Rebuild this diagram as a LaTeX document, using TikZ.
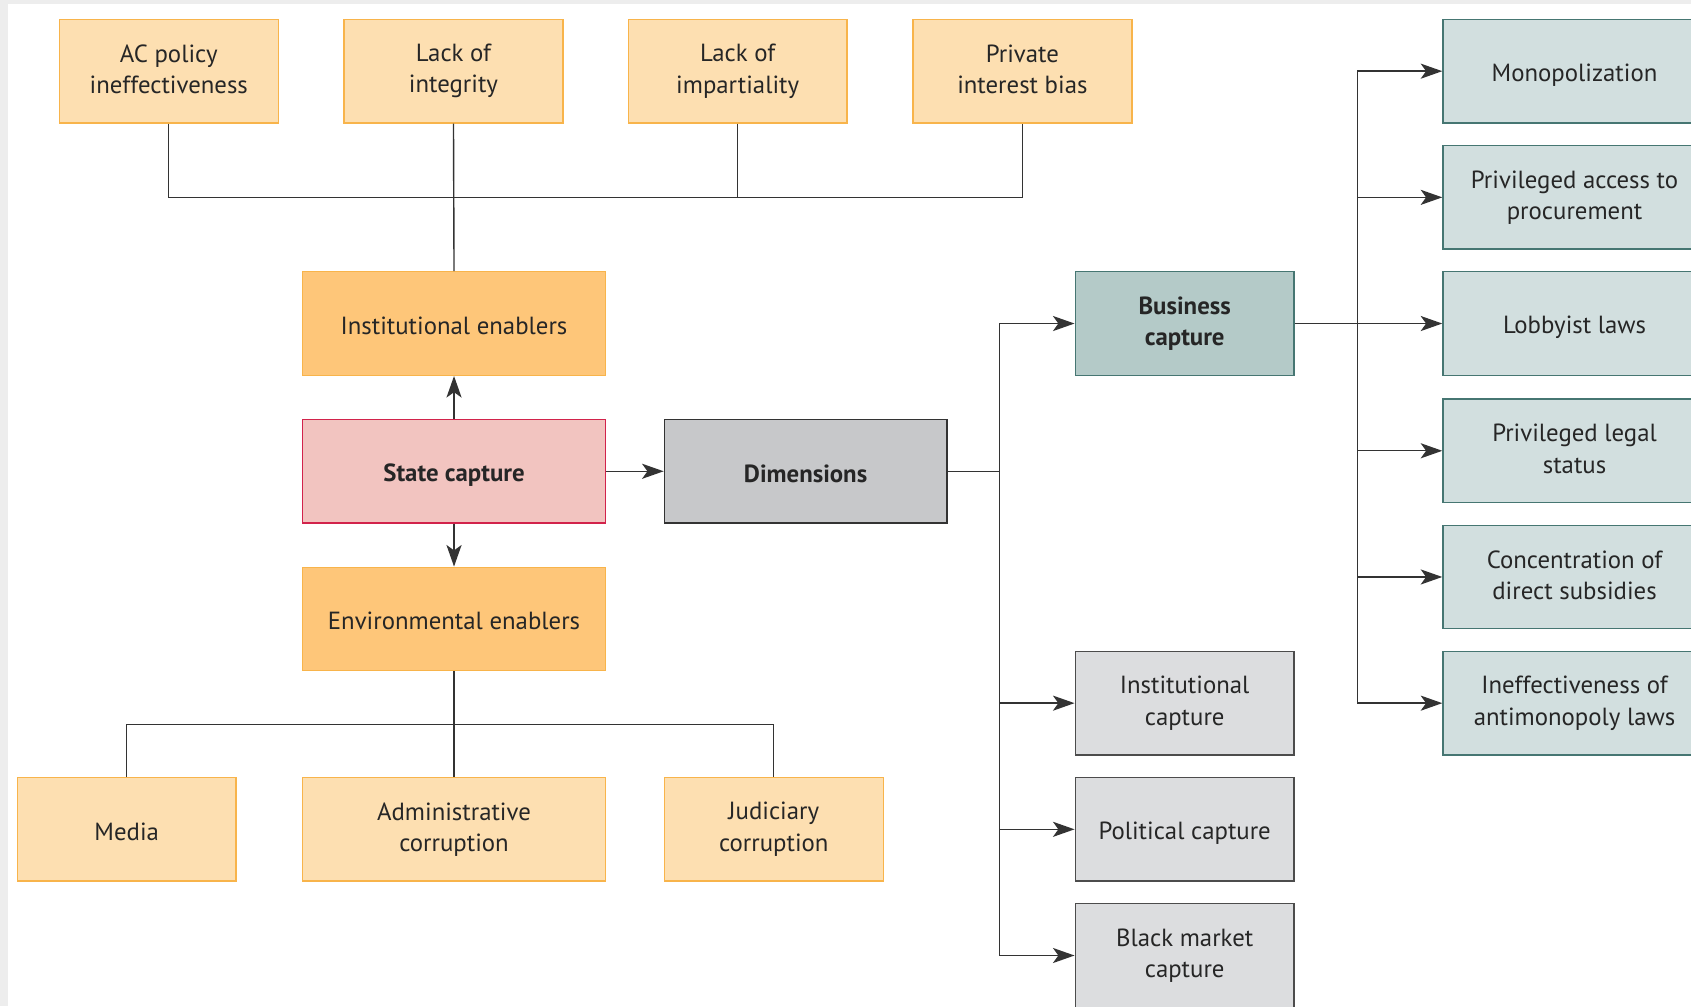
\documentclass[tikz,border=0pt]{standalone}
\usepackage{fontspec}
\setmainfont{PT Sans}
\usetikzlibrary{positioning,arrows.meta}
\definecolor{paleorange}{HTML}{FDDFB1}
\definecolor{deeporange}{HTML}{FEC679}
\definecolor{orangeline}{HTML}{F8B44B}
\definecolor{pinkfill}{HTML}{F2C4C0}
\definecolor{crimson}{HTML}{D2234B}
\definecolor{midgrey}{HTML}{C7C8CA}
\definecolor{lightgrey}{HTML}{DCDDDF}
\definecolor{tealfill}{HTML}{B4CAC8}
\definecolor{palemint}{HTML}{D2DFDF}
\definecolor{tealline}{HTML}{467672}
\tikzset{
    x=1pt,
    y=-1pt,
    box/.style = {
        draw,
        shape=rectangle,
        minimum height=96pt,
        minimum width=203pt,
        inner sep=0pt,
        line width=1.3pt,
        align=center,
        text=black!85,
        font=\fontsize{23}{29}\selectfont,
        execute at begin node={\rule{0pt}{24pt}},
        execute at end node={\rule[-4pt]{0pt}{4pt}}
    },
    factor/.style = {
        box,
        fill=paleorange,
        draw=orangeline
    },
    enabler/.style = {
        box,
        minimum width=281pt,
        fill=deeporange,
        draw=orangeline
    },
    core/.style = {
        box,
        minimum width=281pt,
        fill=pinkfill,
        draw=crimson,
        font=\fontsize{23}{29}\selectfont\bfseries
    },
    dimension/.style = {
        box,
        minimum width=262pt,
        fill=midgrey,
        draw=black!80,
        font=\fontsize{23}{29}\selectfont\bfseries
    },
    capture/.style = {
        box,
        fill=lightgrey,
        draw=black!70
    },
    bizcapture/.style = {
        box,
        fill=tealfill,
        draw=tealline,
        font=\fontsize{23}{29}\selectfont\bfseries
    },
    practice/.style = {
        box,
        minimum width=244pt,
        fill=palemint,
        draw=tealline
    },
    link/.style = {
        draw,
        line width=1.3pt,
        black!80
    },
    >={Stealth[length=20pt,width=14pt,inset=5pt]},
}

\begin{document}
\begin{tikzpicture}
            \useasboundingbox (0,0) rectangle (1568,933);
            \clip (0,0) rectangle (1568,933);
            \fill[black!7] (0,0) rectangle (1568,933);
            \fill[white] (7,4) rectangle (1568,933);

            \node[factor] (acpolicy) at (156.5,66) {AC policy\\ineffectiveness};
            \node[factor] (integrity) at (420.5,66) {Lack of\\integrity};
            \node[factor] (impartiality) at (684,66) {Lack of\\impartiality};
            \node[factor] (privbias) at (948,66) {Private\\interest bias};

            \node[enabler] (instenab) at (421,300) {Institutional enablers};
            \node[core] (statecap) at (421,437) {State capture};
            \node[enabler] (envenab) at (421,574) {Environmental enablers};

            \node[factor] (media) at (117.5,769) {Media};
            \node[factor, minimum width=281pt] (admincorr) at (421,769) {Administrative\\corruption};
            \node[factor] (judiciary) at (717.5,769) {Judiciary\\corruption};

            \node[dimension] (dims) at (747,437) {Dimensions};

            \node[bizcapture] (business) at (1098.5,300) {Business\\capture};
            \node[capture] (instcap) at (1098.5,652) {Institutional\\capture};
            \node[capture] (polcap) at (1098.5,769) {Political capture};
            \node[capture] (blackmkt) at (1098.5,886) {Black market\\capture};

            \node[practice] (mono) at (1460,66) {Monopolization};
            \node[practice] (procure) at (1460,183) {Privileged access to\\procurement};
            \node[practice] (lobby) at (1460,300) {Lobbyist laws};
            \node[practice] (legal) at (1460,418) {Privileged legal\\status};
            \node[practice] (subsidies) at (1460,535) {Concentration of\\direct subsidies};
            \node[practice] (antimono) at (1460,652) {Ineffectiveness of\\antimonopoly laws};

            \coordinate (topbus) at (420.5,183);
            \coordinate (lowbus) at (421,672);
            \coordinate (dimbus) at (927,437);
            \coordinate (bizbus) at (1259,300);

            % institutional side
            \path[link] (acpolicy.south) |- (topbus) -| (privbias.south);
            \path[link] (impartiality.south) -- (impartiality.south |- topbus);
            \path[link] (integrity.south) -- (instenab.north);

            % environmental side
            \path[link] (media.north) |- (lowbus) -| (judiciary.north);
            \path[link] (envenab.south) -- (admincorr.north);

            \path[link, ->] (statecap.north) -- (instenab.south);
            \path[link, ->] (statecap.south) -- (envenab.north);
            \path[link, ->] (statecap.east) -- (dims.west);

            % dimensions
            \path[link] (dims.east) -- (dimbus);
            \foreach \target in {business, instcap, polcap, blackmkt}
                \path[link, ->] (dimbus) |- (\target.west);

            % business capture
            \path[link, ->] (business.east) -- (lobby.west);
            \foreach \target in {mono, procure, legal, subsidies, antimono}
                \path[link, ->] (bizbus) |- (\target.west);

        \end{tikzpicture}
\end{document}
